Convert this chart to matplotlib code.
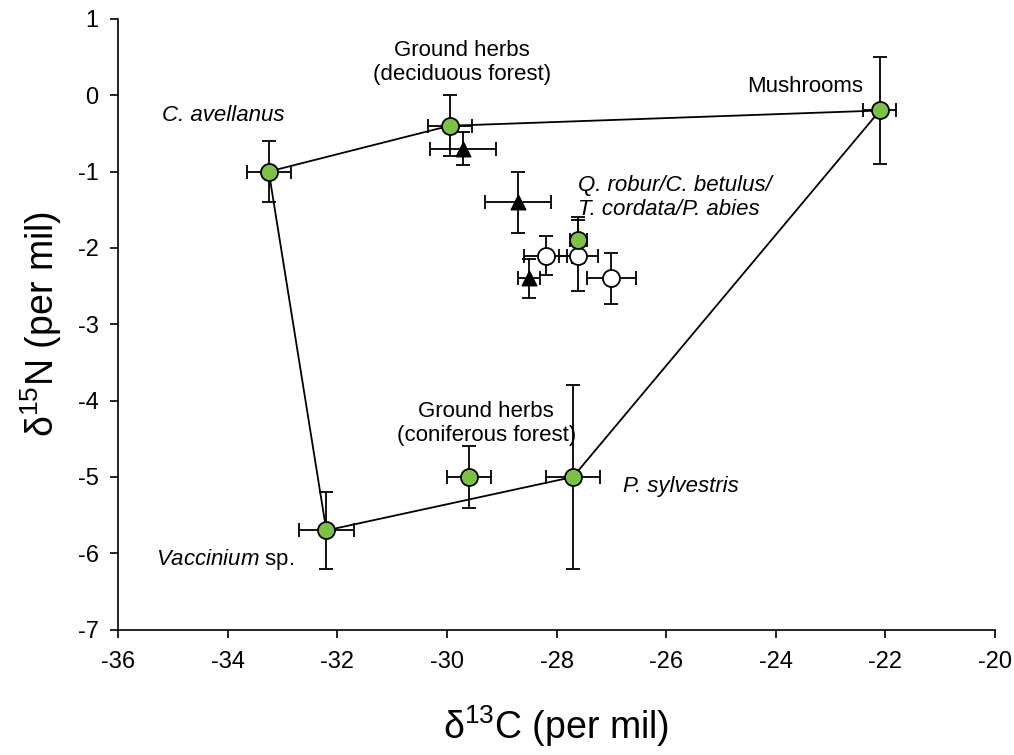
import matplotlib.pyplot as plt

plt.rcParams['font.family'] = ['Liberation Sans', 'DejaVu Sans']
plt.rcParams['mathtext.fontset'] = 'custom'
plt.rcParams['mathtext.rm'] = 'Liberation Sans'
plt.rcParams['mathtext.it'] = 'Liberation Sans:italic'
plt.rcParams['axes.unicode_minus'] = False

# green circles: sources (polygon corners + others)
green_names = ['C. avellanus', 'Ground herbs dec.', 'Mushrooms', 'P. sylvestris',
               'Vaccinium sp.', 'Ground herbs con.', 'Q. robur group']
green_x = [-33.25, -29.95, -22.1, -27.7, -32.2, -29.6, -27.6]
green_y = [-1.0, -0.4, -0.2, -5.0, -5.7, -5.0, -1.9]
green_xerr = [0.4, 0.4, 0.3, 0.5, 0.5, 0.4, 0.15]
green_yerr = [0.4, 0.4, 0.7, 1.2, 0.5, 0.4, 0.3]

# open circles
white_x = [-28.2, -27.6, -27.0]
white_y = [-2.1, -2.1, -2.4]
white_xerr = [0.4, 0.35, 0.45]
white_yerr = [0.25, 0.47, 0.33]

# black triangles
tri_x = [-29.7, -28.7, -28.5]
tri_y = [-0.7, -1.4, -2.4]
tri_xerr = [0.6, 0.6, 0.2]
tri_yerr = [0.22, 0.4, 0.25]

# polygon order: indices into the green arrays
poly = [0, 1, 2, 3, 4, 0]

fig = plt.figure(figsize=(10.14, 7.55), dpi=100)
ax = fig.add_axes([0.1164, 0.166, 0.8649, 0.809])

ax.plot([green_x[i] for i in poly], [green_y[i] for i in poly],
        color='black', lw=1.3, zorder=2)

ebkw = dict(fmt='none', ecolor='black', elinewidth=1.3, capsize=5, capthick=1.3, zorder=3)
ax.errorbar(tri_x, tri_y, xerr=tri_xerr, yerr=tri_yerr, **ebkw)
ax.errorbar(white_x, white_y, xerr=white_xerr, yerr=white_yerr, **ebkw)
ax.errorbar(green_x, green_y, xerr=green_xerr, yerr=green_yerr, **ebkw)

ax.scatter(tri_x, tri_y, marker='^', s=110, c='black', zorder=4)
ax.scatter(white_x, white_y, marker='o', s=150, c='white', edgecolors='black',
           linewidths=1.3, zorder=4)
ax.scatter(green_x, green_y, marker='o', s=150, c='#7dc242', edgecolors='black',
           linewidths=1.3, zorder=5)

fs = 16
ax.text(-29.72, 0.43, 'Ground herbs\n(deciduous forest)', ha='center', va='center',
        fontsize=fs, linespacing=1.2)
ax.text(-35.2, -0.26, 'C. avellanus', style='italic', ha='left', va='center', fontsize=fs)
ax.text(-22.4, 0.12, 'Mushrooms', ha='right', va='center', fontsize=fs)
ax.text(-27.6, -1.34, 'Q. robur/C. betulus/\nT. cordata/P. abies', style='italic',
        ha='left', va='center', fontsize=fs, linespacing=1.2)
ax.text(-29.28, -4.3, 'Ground herbs\n(coniferous forest)', ha='center', va='center',
        fontsize=fs, linespacing=1.2)
ax.text(-26.78, -5.13, 'P. sylvestris', style='italic', ha='left', va='center', fontsize=fs)
ax.text(-35.3, -6.08, r'$\it{Vaccinium}$ sp.', ha='left', va='center', fontsize=fs)

ax.set_xlim(-36, -20)
ax.set_ylim(-7, 1)
ax.set_xticks(range(-36, -19, 2))
ax.set_yticks(range(-7, 2))
ax.tick_params(labelsize=17, direction='out', length=6, width=1.2)
ax.tick_params(axis='x', pad=9)
ax.tick_params(axis='y', pad=8)
for s in ['top', 'right']:
    ax.spines[s].set_visible(False)
for s in ['left', 'bottom']:
    ax.spines[s].set_linewidth(1.2)

ax.set_xlabel('δ$^{13}$C (per mil)', fontsize=27, labelpad=22)
ax.set_ylabel('δ$^{15}$N (per mil)', fontsize=27, labelpad=10)

plt.savefig('out.png', dpi=100)
